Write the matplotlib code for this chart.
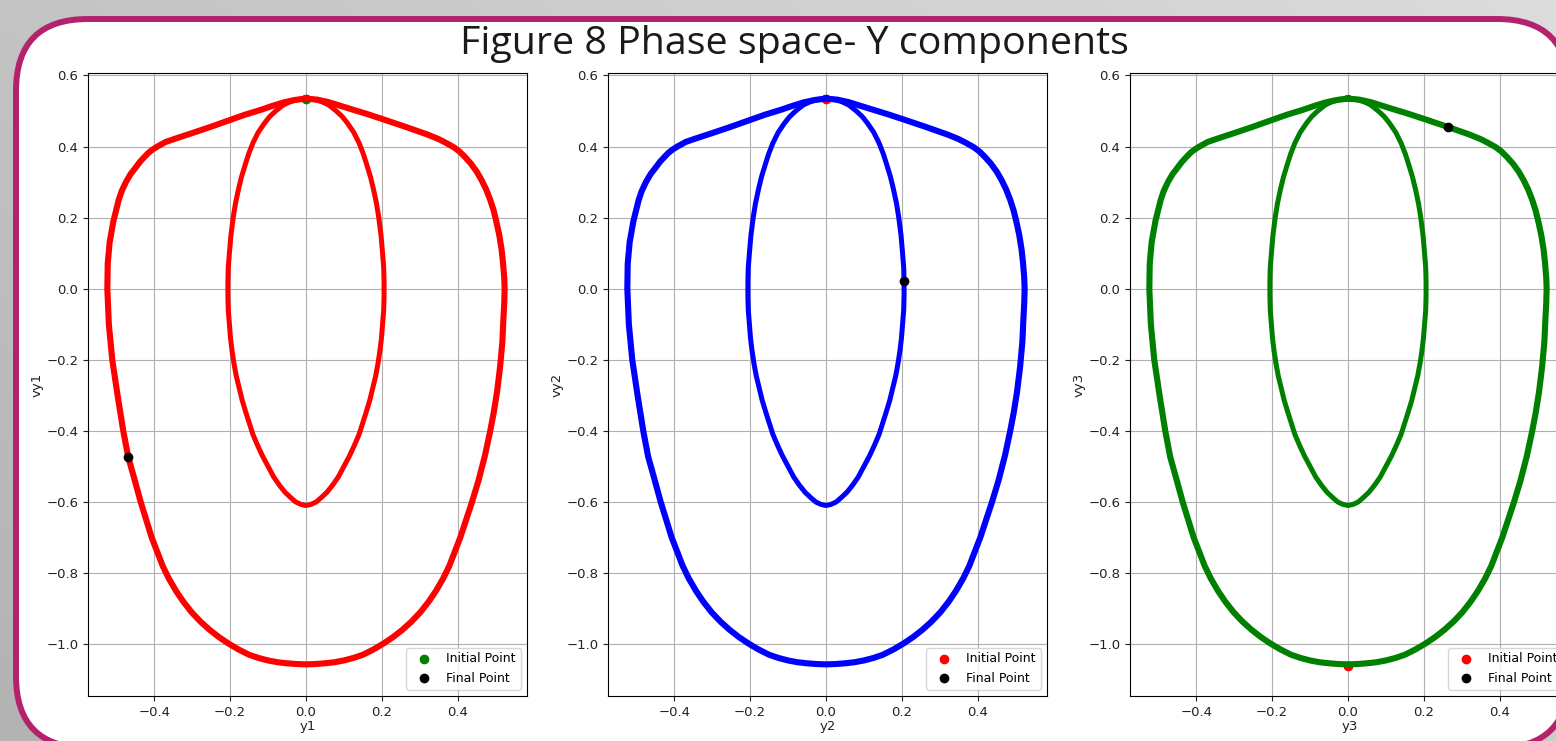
import numpy as np
import matplotlib
matplotlib.use("Agg")
import matplotlib.pyplot as plt
from matplotlib.patches import FancyBboxPatch

# ---------------- data ----------------
title_text = "Figure 8 Phase space- Y components"
x_labels = ["y1", "y2", "y3"]
y_labels = ["vy1", "vy2", "vy3"]
line_colors = ["red", "blue", "green"]
initial_colors = ["green", "red", "red"]

# outer loop of the phase curve (position y, velocity vy)
outer_x = [0.0, 0.03, 0.06, 0.09, 0.12, 0.16, 0.20, 0.264, 0.32, 0.35, 0.37, 0.39,
           0.405, 0.42, 0.435, 0.45, 0.463, 0.475, 0.486, 0.495, 0.503, 0.51, 0.516,
           0.52, 0.523, 0.524, 0.523, 0.521, 0.518, 0.512, 0.504, 0.495, 0.486,
           0.472, 0.455, 0.438, 0.407, 0.378, 0.362, 0.343, 0.324, 0.302, 0.278, 0.254,
           0.23, 0.205, 0.178, 0.15, 0.125, 0.10, 0.075, 0.05, 0.025, 0.0,
           -0.025, -0.05, -0.075, -0.10, -0.125, -0.15, -0.178, -0.205, -0.23,
           -0.254, -0.278, -0.302, -0.324, -0.343, -0.362, -0.378, -0.407, -0.436,
           -0.454, -0.469, -0.482, -0.497, -0.511, -0.52, -0.524, -0.523, -0.518,
           -0.508, -0.494, -0.486, -0.475, -0.463, -0.45, -0.438, -0.425, -0.415,
           -0.404, -0.392, -0.37, -0.34, -0.30, -0.25, -0.20, -0.16, -0.12, -0.09,
           -0.06, -0.03, 0.0]
outer_y = [0.535, 0.532, 0.525, 0.515, 0.505, 0.492, 0.478, 0.455, 0.434, 0.421, 0.41,
           0.398, 0.386, 0.37, 0.352, 0.33, 0.306, 0.28, 0.25, 0.22, 0.185, 0.15, 0.11,
           0.07, 0.03, 0.0, -0.04, -0.08, -0.15, -0.22, -0.29, -0.35, -0.40,
           -0.47, -0.54, -0.60, -0.70, -0.78, -0.815, -0.85, -0.88, -0.91, -0.937,
           -0.96, -0.98, -0.998, -1.015, -1.03, -1.039, -1.046, -1.051, -1.054,
           -1.056, -1.057,
           -1.056, -1.054, -1.051, -1.046, -1.039, -1.03, -1.015, -0.998, -0.98,
           -0.96, -0.937, -0.91, -0.88, -0.85, -0.815, -0.78, -0.70, -0.60,
           -0.53, -0.473, -0.40, -0.30, -0.20, -0.10, 0.0, 0.07, 0.13,
           0.19, 0.25, 0.275, 0.30, 0.322, 0.34, 0.357, 0.372, 0.383,
           0.392, 0.40, 0.413, 0.424, 0.438, 0.456, 0.475, 0.49, 0.503, 0.514,
           0.524, 0.531, 0.535]

# inner loop of the phase curve
inner_x = [0.0, 0.02, 0.04, 0.06, 0.08, 0.096, 0.11, 0.126, 0.14, 0.151, 0.16, 0.17,
           0.178, 0.186, 0.192, 0.198, 0.202, 0.205, 0.206, 0.206, 0.205, 0.202,
           0.199, 0.195, 0.19, 0.184, 0.176, 0.168, 0.158, 0.149, 0.14, 0.128,
           0.115, 0.10, 0.085, 0.07, 0.055, 0.04, 0.027, 0.013, 0.0,
           -0.013, -0.027, -0.04, -0.055, -0.07, -0.085, -0.10, -0.115, -0.128,
           -0.14, -0.149, -0.158, -0.168, -0.176, -0.184, -0.19, -0.195, -0.199,
           -0.202, -0.205, -0.206, -0.206, -0.205, -0.202, -0.198, -0.192, -0.186,
           -0.178, -0.17, -0.16, -0.151, -0.14, -0.126, -0.11, -0.096, -0.08, -0.06,
           -0.04, -0.02, 0.0]
inner_y = [0.535, 0.533, 0.527, 0.517, 0.50, 0.484, 0.465, 0.44, 0.41, 0.38, 0.35, 0.315,
           0.28, 0.24, 0.20, 0.15, 0.10, 0.06, 0.02, -0.02, -0.06, -0.10,
           -0.14, -0.175, -0.21, -0.245, -0.28, -0.315, -0.35, -0.38, -0.41, -0.44,
           -0.47, -0.50, -0.53, -0.553, -0.573, -0.588, -0.60, -0.607, -0.61,
           -0.607, -0.60, -0.588, -0.573, -0.553, -0.53, -0.50, -0.47, -0.44,
           -0.41, -0.38, -0.35, -0.315, -0.28, -0.245, -0.21, -0.175, -0.14,
           -0.10, -0.06, -0.02, 0.02, 0.06, 0.10, 0.15, 0.20, 0.24,
           0.28, 0.315, 0.35, 0.38, 0.41, 0.44, 0.465, 0.484, 0.50, 0.517,
           0.527, 0.533, 0.535]

initial_x = [0.0, 0.0, 0.0]
initial_y = [0.535, 0.535, -1.062]
final_x = [-0.469, 0.205, 0.264]
final_y = [-0.473, 0.022, 0.455]

# ---------------- figure ----------------
W, H = 1556, 741
DPI = 100
fig = plt.figure(figsize=(W / DPI, H / DPI), dpi=DPI)

# background: gray gradient + white rounded panel with magenta border
bg = fig.add_axes([0, 0, 1, 1], zorder=-10)
bg.set_xlim(0, W)
bg.set_ylim(H, 0)
bg.axis("off")
gx = np.linspace(0, 1, 200)
gy = np.linspace(0, 1, 100)
GX, GY = np.meshgrid(gx, gy)
grad = 0.70 + 0.16 * (0.6 * GX + 0.4 * (1 - GY))
bg.imshow(grad, cmap="gray", vmin=0, vmax=1, extent=[0, W, H, 0], aspect="auto",
          interpolation="bilinear")
panel = FancyBboxPatch((16, 19), 1569 - 16, 748 - 19,
                       boxstyle="round,pad=0,rounding_size=72",
                       facecolor="white", edgecolor="#B3226D", linewidth=4.3)
bg.add_patch(panel)

fig.text(794 / W, 1 - 54 / H, title_text, ha="center", va="baseline",
         fontsize=28.4, family="Open Sans", color="#1a1a1a")

ax_w = 439 / W
ax_h = 623 / H
ax_b = (H - 696) / H
lefts = [88 / W, 608 / W, 1130 / W]

for i in range(3):
    ax = fig.add_axes([lefts[i], ax_b, ax_w, ax_h])
    ax.scatter([initial_x[i]], [initial_y[i]], color=initial_colors[i], s=36,
               zorder=1, label="Initial Point")
    ax.plot(outer_x, outer_y, color=line_colors[i], lw=4.4, zorder=2,
            solid_joinstyle="round")
    ax.plot(inner_x, inner_y, color=line_colors[i], lw=3.6, zorder=2,
            solid_joinstyle="round")
    ax.scatter([final_x[i]], [final_y[i]], color="black", s=36, zorder=3,
               label="Final Point")
    ax.set_xlim(-0.575, 0.583)
    ax.set_ylim(-1.146, 0.607)
    ax.set_xticks([-0.4, -0.2, 0.0, 0.2, 0.4])
    ax.set_yticks([-1.0, -0.8, -0.6, -0.4, -0.2, 0.0, 0.2, 0.4, 0.6])
    ax.grid(True, color="#b0b0b0", lw=0.8)
    ax.set_axisbelow(True)
    ax.tick_params(labelsize=9.5, colors="#222222")
    ax.set_xlabel(x_labels[i], fontsize=9.5, labelpad=1, color="#222222")
    ax.set_ylabel(y_labels[i], fontsize=9.5, labelpad=2, color="#222222")
    ax.legend(loc="lower right", fontsize=9)

fig.savefig("out.png", dpi=DPI)
